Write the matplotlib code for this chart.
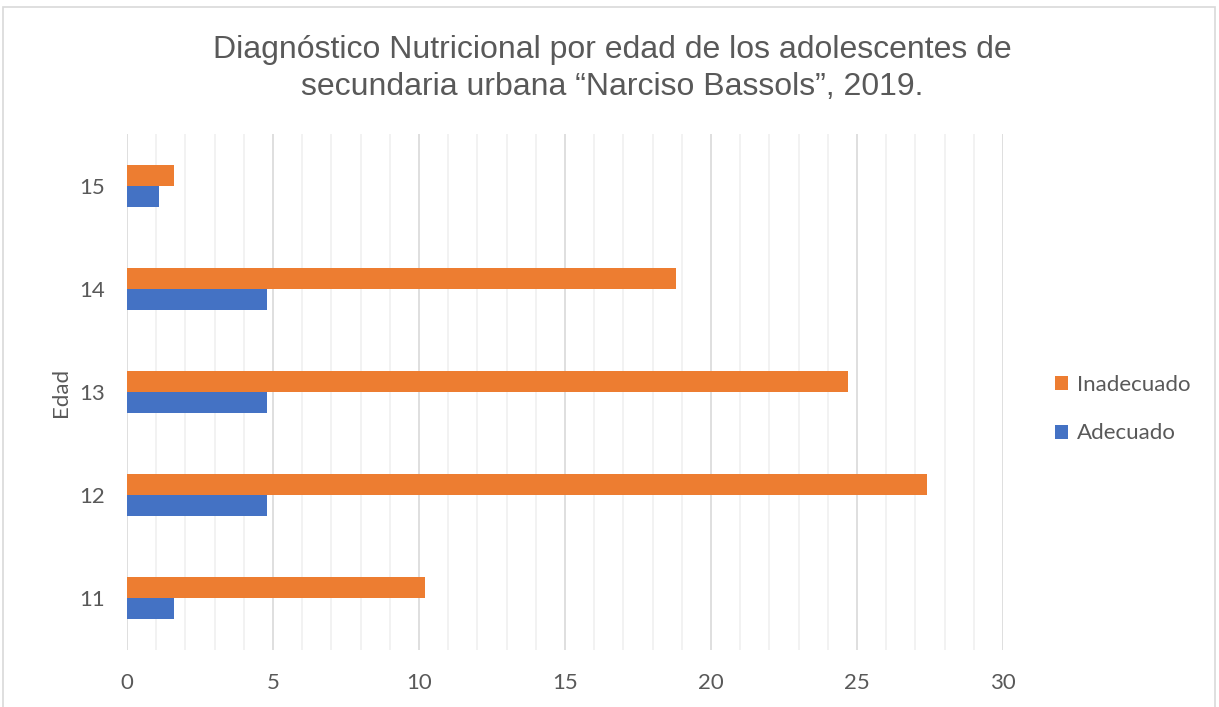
import matplotlib.pyplot as plt
import numpy as np
from matplotlib.patches import Rectangle

# Datos: porcentaje de adolescentes por edad y diagnóstico
edades = ['11', '12', '13', '14', '15']
inadecuado = [10.2, 27.4, 24.7, 18.8, 1.6]
adecuado = [1.6, 4.8, 4.8, 4.8, 1.1]

titulo = ('Diagnóstico Nutricional por edad de los adolescentes de\n'
          'secundaria urbana \u201cNarciso Bassols\u201d, 2019.')

naranja = '#ED7D31'
azul = '#4472C4'
gris_texto = '#595959'

plt.rcParams['font.family'] = ['Lato', 'DejaVu Sans']

fig = plt.figure(figsize=(12.19, 7.07), dpi=100)
ax = fig.add_axes([0.1042, 0.0813, 0.7186, 0.7285])

y = np.arange(len(edades))
h = 0.2
ax.barh(y + h / 2, inadecuado, height=h, color=naranja, label='Inadecuado', zorder=3)
ax.barh(y - h / 2, adecuado, height=h, color=azul, label='Adecuado', zorder=3)

ax.set_xlim(0, 30)
ax.set_ylim(-0.5, len(edades) - 0.5)
ax.set_xticks(np.arange(0, 31, 5))
ax.set_xticks(np.arange(0, 31, 1), minor=True)
ax.set_yticks(y)
ax.set_yticklabels(edades)

# rejilla: principal cada 5, secundaria cada 1
ax.grid(True, which='major', axis='x', color='#D9D9D9', linewidth=1.2, zorder=1)
ax.grid(True, which='minor', axis='x', color='#F0F0F0', linewidth=1.2, zorder=0)
ax.grid(False, axis='y')

for s in ax.spines.values():
    s.set_visible(False)
ax.tick_params(which='both', length=0)
ax.tick_params(axis='x', labelsize=16, colors=gris_texto, pad=17)
ax.tick_params(axis='y', labelsize=16, colors=gris_texto, pad=16)

ax.set_ylabel('Edad', fontsize=16, color=gris_texto, labelpad=6)

fig.text(0.502, 0.903, titulo, ha='center', va='center', fontsize=23,
         color=gris_texto, family=['Liberation Sans', 'DejaVu Sans'],
         linespacing=1.3)

leg = ax.legend(loc='center left', bbox_to_anchor=(1.036, 0.467), frameon=False,
                fontsize=16, handlelength=0.6, handleheight=0.6,
                handletextpad=0.4, labelspacing=1.3)
for t in leg.get_texts():
    t.set_color(gris_texto)

# marco del gráfico
fig.patches.append(Rectangle((3 / 1219, -0.01), 1212 / 1219, 1.01 - 7 / 707,
                             transform=fig.transFigure, fill=False,
                             edgecolor='#D9D9D9', linewidth=1.2))

fig.savefig('out.png', dpi=100)
